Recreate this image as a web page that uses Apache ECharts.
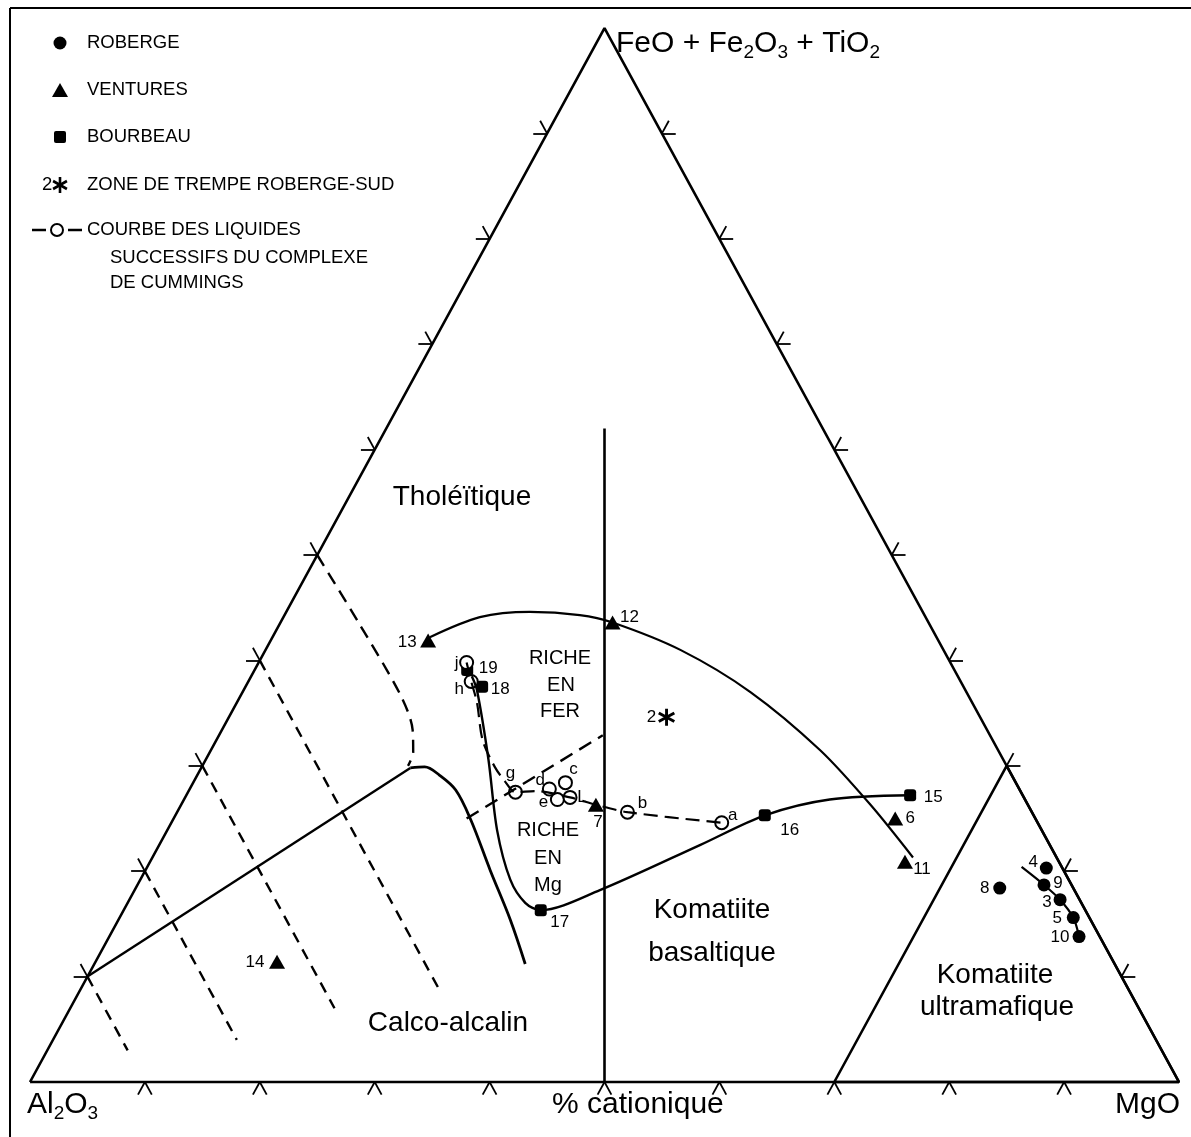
<!DOCTYPE html>
<html>
<head>
<meta charset="utf-8">
<script src="https://cdn.jsdelivr.net/npm/echarts@6/dist/echarts.min.js"></script>
<style>
html,body{margin:0;padding:0;background:#fff}
#main{width:1191px;height:1137px}
</style>
</head>
<body>
<div id="main"></div>
<script>
// all values in % cationique, given as [FeO+Fe2O3+TiO2, MgO]; Al2O3 = 100 - F - M
var robergeNames = ['4','9','3','5','10','8'];
var robergeVals = [[20.3,78.3],[18.7,78.9],[17.3,81.0],[15.6,83.0],[13.8,84.4],[18.4,75.2]];
var venturesNames = ['13','12','7','6','11','14'];
var venturesVals = [[41.9,13.7],[43.6,28.9],[26.3,36.1],[25.0,62.8],[20.9,65.7],[11.4,15.8]];
var bourbeauNames = ['19','18','17','16','15'];
var bourbeauVals = [[39.1,18.5],[37.5,20.6],[16.3,36.3],[25.3,51.3],[27.2,63.0]];
var trempeNames = ['2'];
var trempeVals = [[34.6,38.1]];
var cummingsNames = ['j','h','g','d','c','e','L','b','a'];
var cummingsVals = [[39.8,18.1],[38.0,19.4],[27.5,28.5],[27.8,31.3],[28.4,32.4],[26.8,32.5],[27.0,33.5],[25.6,39.2],[24.6,47.9]];

// curves and field boundaries
var trend13to11 = [[42.2,13.7],[44.1,17.1],[44.6,21.2],[44.3,25.7],[43.6,28.9],[41.0,36.1],[37.0,44.2],[31.5,53.0],[26.3,60.0],[21.3,66.2]];
var trend19to15 = [[38.5,19.2],[37.2,20.3],[30.6,24.6],[23.9,28.7],[19.2,32.2],[17.0,34.6],[16.3,36.3],[18.2,40.5],[22.5,47.1],[25.3,51.3],[26.8,56.2],[27.2,63.0]];
var cummingsPath = [[39.8,18.1],[38.0,19.4],[36.0,20.9],[32.4,23.2],[29.9,25.5],[28.5,27.1],[27.5,28.5],[27.6,30.2],[27.0,33.5],[26.3,36.1],[25.6,39.2],[24.6,47.9]];
var robergeTrend = [[20.4,76.1],[18.7,78.9],[17.3,81.0],[15.6,83.0],[13.8,84.4]];
var caLine = [[10,0],[29.8,18.2]];
var caCurve = [[29.8,18.2],[29.9,19.4],[29.1,21.1],[27.7,23.2],[24.9,25.9],[20.1,30.0],[15.4,34.1],[11.2,37.5]];
var thCaDash = [[50,0],[43.4,7.0],[36.7,13.9],[33.4,16.6],[31.3,17.7],[30.0,17.9]];
var innerDash = [[25.0,25.5],[32.9,33.4]];
var caDashes = [[[10,0],[3,7]],[[20,0],[4,16]],[[30,0],[7,23]],[[40,0],[8.5,31.5]]];
var komLine = [[0,50],[62,19]];
var ultraTri = [[0,70],[30,70],[0,100],[0,70]];
var tickSteps = [10,20,30,40,50,60,70,80,90];

// label offsets (px) from the marker centre
var robergeOff = [[-13,-6],[14,-2],[-13,3],[-16,1],[-19,1],[-15,0]];
var venturesOff = [[-21,2],[17,-5],[2,18],[15,0],[17,8],[-22,0]];
var bourbeauOff = [[21,-2],[18,3],[19,12],[25,15],[23,2]];
var trempeOff = [[-15,0]];
var cummingsOff = [[-10,1],[-12,8],[-5,-19],[-9,-9],[8,-13],[-14,3],[12,0],[15,-9],[11,-7]];

var FONT = 'Liberation Sans, Arial, Helvetica, sans-serif';

function tern(p){ return [p[1] + p[0]/2, p[0]]; }
function path(arr){ return arr.map(tern); }

function lineSeries(arr, dash, smooth, w){
  return {
    type:'line', data:path(arr), symbol:'none', clip:false, silent:true,
    smooth: smooth || false, animation:false,
    lineStyle:{color:'#000', width: w || 2.4, type: dash ? dash : 'solid', cap:'butt', opacity:1}
  };
}

function pts(names, vals, offs){
  return vals.map(function(v,i){
    return {
      value: tern(v), name: names[i],
      label:{show:true, position:'inside', offset:offs[i], formatter:names[i],
        color:'#000', fontSize:17, fontFamily:FONT}
    };
  });
}

function starPath(){
  var s = '';
  [90,30,150].forEach(function(a){
    var r = a*Math.PI/180, c = Math.cos(r), n = Math.sin(r), L = 8, h = 1.3;
    var p = [[L*c - h*n, L*n + h*c],[L*c + h*n, L*n - h*c],[-L*c + h*n, -L*n - h*c],[-L*c - h*n, -L*n + h*c]];
    s += 'M' + p.map(function(q){return q[0].toFixed(2)+' '+q[1].toFixed(2);}).join(' L') + ' Z ';
  });
  return 'path://' + s;
}

// tick marks: outward extensions of the two grid lines at each 10 %
var tickLines = [];
var t = 1.2;
tickSteps.forEach(function(k){
  tickLines.push({coords:[tern([k,0]), tern([k,-t])]});
  tickLines.push({coords:[tern([k,0]), tern([k+t,-t])]});
  tickLines.push({coords:[tern([0,k]), tern([-t,k])]});
  tickLines.push({coords:[tern([0,k]), tern([-t,k+t])]});
  tickLines.push({coords:[tern([k,100-k]), tern([k,100-k+t])]});
  tickLines.push({coords:[tern([k,100-k]), tern([k+t,100-k])]});
});

function scat(sym, size, style, names, vals, offs){
  return {
    type:'scatter', symbol:sym, symbolSize:size, clip:false, animation:false, silent:true,
    itemStyle:style, data:pts(names, vals, offs)
  };
}

var series = [
  lineSeries([[0,0],[100,0],[0,100],[0,0]], null, false, 2.6),
  lineSeries(ultraTri, null, false, 2.6),
  lineSeries(komLine, null, false, 2.6),
  lineSeries(trend13to11, null, 0.3, 2.2),
  lineSeries(trend19to15, null, 0.3, 2.4),
  lineSeries(caLine, null, false, 2.4),
  lineSeries(caCurve, null, 0.35, 2.8),
  lineSeries(thCaDash, [13,8], 0.3, 2.4),
  lineSeries(innerDash, [14,8], false, 2.4),
  lineSeries(cummingsPath, [14,7], 0.3, 2.2),
  lineSeries(robergeTrend, null, 0.3, 2.2)
];
caDashes.forEach(function(d){ series.push(lineSeries(d, [11,8], false, 2.4)); });
series.push({
  type:'lines', coordinateSystem:'cartesian2d', data:tickLines, silent:true, animation:false,
  lineStyle:{color:'#000', width:1.8, opacity:1}
});
series.push(scat('circle', 13, {color:'#000', opacity:1}, robergeNames, robergeVals, robergeOff));
series.push(scat('triangle', [16,14], {color:'#000', opacity:1}, venturesNames, venturesVals, venturesOff));
series.push(scat('roundRect', 12, {color:'#000', opacity:1}, bourbeauNames, bourbeauVals, bourbeauOff));
series.push(scat(starPath(), 17, {color:'#000', opacity:1}, trempeNames, trempeVals, trempeOff));
series.push(scat('circle', 13, {color:'#fff', borderColor:'#000', borderWidth:2, opacity:1}, cummingsNames, cummingsVals, cummingsOff));

// text helpers
var ctx = document.createElement('canvas').getContext('2d');
function tw(s, size){ ctx.font = size + 'px ' + FONT; return ctx.measureText(s).width; }
function txt(x, y, s, size, align, weight){
  return {type:'text', x:x, y:y, silent:true,
    style:{text:s, fill:'#000', font:(weight||'normal') + ' ' + size + 'px ' + FONT,
      textAlign:align||'left', textVerticalAlign:'middle'}};
}
function chem(x, y, parts, size){
  var out = [], cx = x, sub = Math.round(size*0.64);
  parts.forEach(function(p){
    var isSub = /^[0-9]$/.test(p);
    var s = isSub ? sub : size;
    out.push(txt(cx, isSub ? y + size*0.28 : y, p, s));
    cx += tw(p, s);
  });
  return out;
}
function seg(x1, y1, x2, y2, w){
  return {type:'line', silent:true, shape:{x1:x1,y1:y1,x2:x2,y2:y2}, style:{stroke:'#000', lineWidth:w||2}};
}

var g = [];
// frame
g.push(seg(10, 8, 1191, 8, 2));
g.push(seg(10, 8, 10, 1137, 2));
// corner labels
g = g.concat(chem(616, 44, ['FeO',' + ','Fe','2','O','3',' + ','TiO','2'], 30));
g = g.concat(chem(27, 1105, ['Al','2','O','3'], 30));
g.push(txt(1115, 1105, 'MgO', 30));
g.push(txt(552, 1105, '% cationique', 30));
// legend
g.push({type:'circle', shape:{cx:60, cy:43, r:6.5}, style:{fill:'#000'}});
g.push({type:'polygon', shape:{points:[[60,83],[68,97],[52,97]]}, style:{fill:'#000'}});
g.push({type:'rect', shape:{x:54, y:131, width:12, height:12, r:2}, style:{fill:'#000'}});
[90,30,150].forEach(function(a){
  var r = a*Math.PI/180, dx = 8*Math.cos(r), dy = 8*Math.sin(r);
  g.push(seg(60-dx, 185-dy, 60+dx, 185+dy, 2.6));
});
g.push(txt(42, 185, '2', 18.5));
g.push(seg(32, 230, 46, 230, 2.5));
g.push(seg(68, 230, 82, 230, 2.5));
g.push({type:'circle', shape:{cx:57, cy:230, r:6}, style:{fill:'#fff', stroke:'#000', lineWidth:2}});
g.push(txt(87, 43, 'ROBERGE', 18.5));
g.push(txt(87, 90, 'VENTURES', 18.5));
g.push(txt(87, 137, 'BOURBEAU', 18.5));
g.push(txt(87, 185, 'ZONE DE TREMPE ROBERGE-SUD', 18.5));
g.push(txt(87, 230, 'COURBE DES LIQUIDES', 18.5));
g.push(txt(110, 258, 'SUCCESSIFS DU COMPLEXE', 18.5));
g.push(txt(110, 283, 'DE CUMMINGS', 18.5));
// field names
g.push(txt(462, 497, 'Tholéïtique', 28, 'center'));
g.push(txt(560, 658, 'RICHE', 20, 'center'));
g.push(txt(561, 685, 'EN', 20, 'center'));
g.push(txt(560, 711, 'FER', 20, 'center'));
g.push(txt(548, 830, 'RICHE', 20, 'center'));
g.push(txt(548, 858, 'EN', 20, 'center'));
g.push(txt(548, 885, 'Mg', 20, 'center'));
g.push(txt(712, 910, 'Komatiite', 28, 'center'));
g.push(txt(712, 953, 'basaltique', 28, 'center'));
g.push(txt(448, 1023, 'Calco-alcalin', 28, 'center'));
g.push(txt(995, 975, 'Komatiite', 28, 'center'));
g.push(txt(997, 1007, 'ultramafique', 28, 'center'));

var chart = echarts.init(document.getElementById('main'), null, {renderer:'canvas'});
chart.setOption({
  backgroundColor:'#fff',
  animation:false,
  grid:{left:0, right:0, top:0, bottom:0},
  xAxis:{type:'value', min:-2.611, max:101.044, show:false},
  yAxis:{type:'value', min:-5.218, max:102.657, show:false},
  series:series,
  graphic:{elements:g}
});
</script>
</body>
</html>
